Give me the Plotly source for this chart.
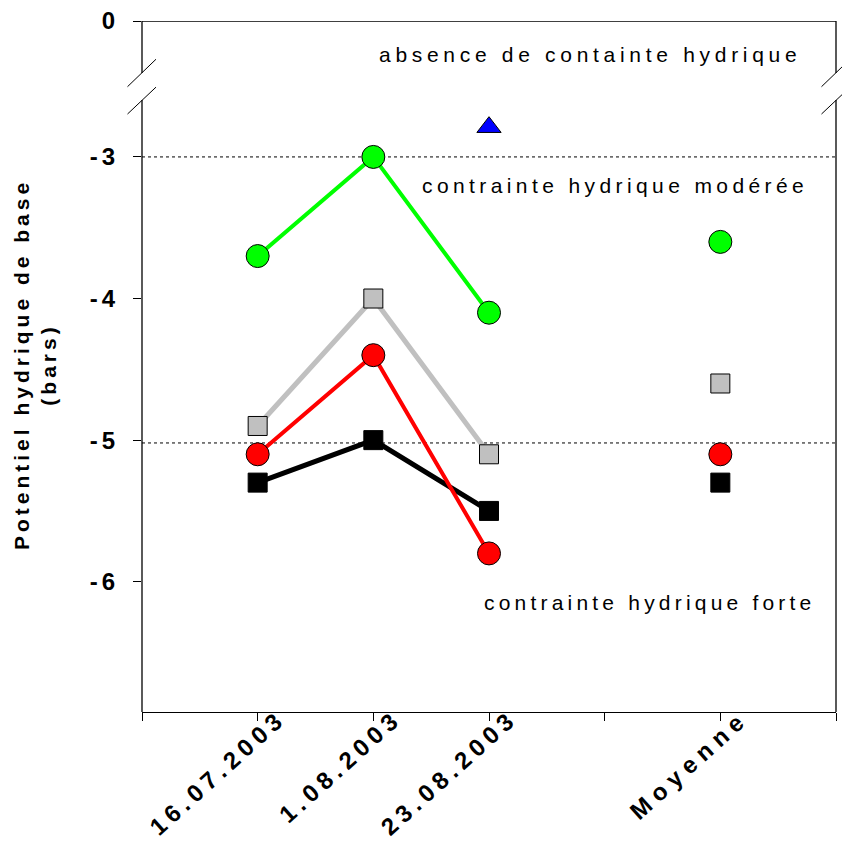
import plotly.graph_objects as go

# ---- data ----
dates = ["16.07.2003", "1.08.2003", "23.08.2003"]
moy_label = "Moyenne"
x_dates = [1, 2, 3]
x_moy = [5]

green_vals = [-3.7, -3.0, -4.1]
green_moy = [-3.6]
gray_vals = [-4.9, -4.0, -5.1]
gray_moy = [-4.6]
red_vals = [-5.1, -4.4, -5.8]
red_moy = [-5.1]
black_vals = [-5.3, -5.0, -5.5]
black_moy = [-5.3]
blue_x = [3]
blue_vals = [-2.79]

ref_lines = [-3.0, -5.02]
y_ticks = [-6, -5, -4, -3, -2.04]
y_ticktext = ["-6", "-5", "-4", "-3", "0"]

FONT = "Arial, Liberation Sans, sans-serif"

fig = go.Figure()

series = [
    (gray_vals, gray_moy, "#c0c0c0", "square", 19, 5),
    (black_vals, black_moy, "#000000", "square", 19, 5),
    (red_vals, red_moy, "#ff0000", "circle", 23, 4),
    (green_vals, green_moy, "#00ff00", "circle", 23, 4),
]
for vals, moy, col, sym, ms, lw in series:
    fig.add_trace(go.Scatter(
        x=x_dates, y=vals, mode="lines",
        line=dict(color=col, width=lw), showlegend=False, hoverinfo="skip"))
for vals, moy, col, sym, ms, lw in series:
    fig.add_trace(go.Scatter(
        x=x_dates + x_moy, y=vals + moy, mode="markers",
        marker=dict(color=col, symbol=sym, size=ms, line=dict(color="black", width=1)),
        showlegend=False))
fig.add_trace(go.Scatter(
    x=blue_x, y=blue_vals, mode="markers",
    marker=dict(color="#0000ff", symbol="triangle-up", size=21, line=dict(color="black", width=1)),
    showlegend=False))

# plot geometry (pixels) for decorations
L, R, T, B = 142, 836, 21, 712
W = R - L
def px(p):
    return (p - L) / W

shapes = []
for yv in ref_lines:
    shapes.append(dict(type="line", xref="paper", yref="y", x0=0, x1=1, y0=yv, y1=yv,
                       line=dict(color="black", width=1, dash="dot"), layer="below"))
# frame with break
ymax = -2.04
ymin = -6.92
gap_top, gap_bot = -2.407, -2.598
for xp in (0, 1):
    shapes.append(dict(type="line", xref="paper", yref="y", x0=xp, x1=xp, y0=ymax, y1=gap_top,
                       line=dict(color="black", width=1.3)))
    shapes.append(dict(type="line", xref="paper", yref="y", x0=xp, x1=xp, y0=gap_bot, y1=ymin,
                       line=dict(color="black", width=1.3)))
shapes.append(dict(type="line", xref="paper", yref="y", x0=0, x1=1, y0=ymax, y1=ymax,
                   line=dict(color="black", width=1.3)))
# break slashes
for cx in (L, R):
    for (ya, yb) in ((-2.504, -2.31), (-2.697, -2.507)):
        shapes.append(dict(type="line", xref="paper", yref="y",
                           x0=px(cx - 14.5), x1=px(cx + 14), y0=ya, y1=yb,
                           line=dict(color="black", width=1)))

fig.update_layout(shapes=shapes)

def spaced(t, sp):
    return f'<span style="letter-spacing:{sp}px">{t}</span>'

ann_font = dict(family=FONT, size=21, color="black")
fig.add_annotation(x=px(590), xref="paper", y=-2.28, yref="y", text=spaced("absence de containte hydrique", 4.7),
                   showarrow=False, font=ann_font, xanchor="center")
fig.add_annotation(x=px(615), xref="paper", y=-3.205, yref="y", text=spaced("contrainte hydrique modérée", 4.4),
                   showarrow=False, font=ann_font, xanchor="center")
fig.add_annotation(x=px(649), xref="paper", y=-6.147, yref="y", text=spaced("contrainte hydrique forte", 4.2),
                   showarrow=False, font=ann_font, xanchor="center")

# y-axis title
fig.add_annotation(x=px(35), xref="paper", y=-4.47, yref="y",
                   text=spaced("Potentiel hydrique de base", 4.0) + "<br>" + spaced("(bars)", 4.0),
                   textangle=-90, showarrow=False, xanchor="center", yanchor="middle",
                   font=dict(family=FONT, size=21, color="black", weight="bold"))

fig.update_xaxes(
    range=[0, 6], tickmode="array", tickvals=[0, 1, 2, 3, 4, 5, 6],
    ticktext=["", spaced(dates[0], 5.3), spaced(dates[1], 5.3), spaced(dates[2], 5.3), "",
              spaced(moy_label, 6.5), ""],
    tickangle=-42, ticks="outside", ticklen=8, tickwidth=1.3, tickcolor="black",
    showline=True, linecolor="black", linewidth=1.3, showgrid=False, zeroline=False,
    automargin=False, ticklabelshift=22, ticklabelstandoff=-26,
    tickfont=dict(family=FONT, size=24, color="black", weight="bold"),
)
fig.update_yaxes(
    range=[ymin, ymax], tickmode="array", tickvals=y_ticks,
    ticktext=[spaced(t, 4) for t in y_ticktext],
    ticks="outside", ticklen=8, tickwidth=1.3, tickcolor="black",
    showline=False, showgrid=False, zeroline=False, ticklabelstandoff=9,
    automargin=False,
    tickfont=dict(family=FONT, size=24, color="black", weight="bold"),
)
fig.update_layout(
    width=842, height=852,
    margin=dict(l=L, r=842 - R, t=T, b=852 - B),
    plot_bgcolor="white", paper_bgcolor="white",
    showlegend=False,
)
fig.write_html("out.html", config={"displayModeBar": False},
               post_script="document.body.style.margin='0px';document.body.style.overflow='hidden';")
